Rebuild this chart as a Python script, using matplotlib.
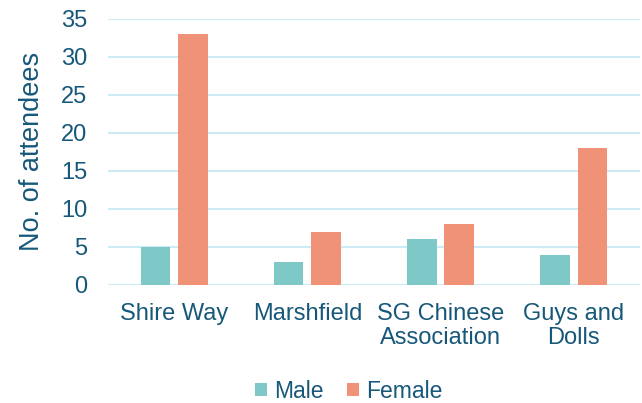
import numpy as np
import matplotlib
matplotlib.use('Agg')
import matplotlib.pyplot as plt

categories = ["Shire Way", "Marshfield", "SG Chinese\nAssociation", "Guys and\nDolls"]
male = [5, 3, 6, 4]
female = [33, 7, 8, 18]
yticks = [0, 5, 10, 15, 20, 25, 30, 35]

text_col = "#17587A"
plt.rcParams['font.family'] = ['Liberation Sans', 'DejaVu Sans']

fig = plt.figure(figsize=(6.42, 4.03), dpi=100)
ax = fig.add_axes([0.168, 0.293, 0.829, 0.660])

x = np.arange(len(categories))
w = 0.22
ax.bar(x - 0.14, male, w, color="#7EC9C8", label="Male", zorder=3)
ax.bar(x + 0.14, female, w, color="#F09277", label="Female", zorder=3)

ax.set_xlim(-0.5, len(categories) - 0.5)
ax.set_ylim(0, 35)
ax.set_yticks(yticks)
ax.yaxis.grid(True, color="#CDEBF6", linewidth=1.5, zorder=0)
ax.set_axisbelow(True)
for s in ax.spines.values():
    s.set_visible(False)
ax.tick_params(length=0, labelsize=17, labelcolor=text_col)
ax.tick_params(axis='y', pad=15)
ax.tick_params(axis='x', pad=13)
ax.set_xticks(x)
ax.set_xticklabels(categories, linespacing=1.1)
ax.set_ylabel("No. of attendees", fontsize=19.5, color=text_col, labelpad=11)

leg = fig.legend(loc="lower center", bbox_to_anchor=(0.543, -0.05), ncol=2, frameon=False,
                 fontsize=16.5, handlelength=0.55, handleheight=0.55, handletextpad=0.3, columnspacing=1.0)
for t in leg.get_texts():
    t.set_color(text_col)

fig.savefig("out.png", dpi=100)
